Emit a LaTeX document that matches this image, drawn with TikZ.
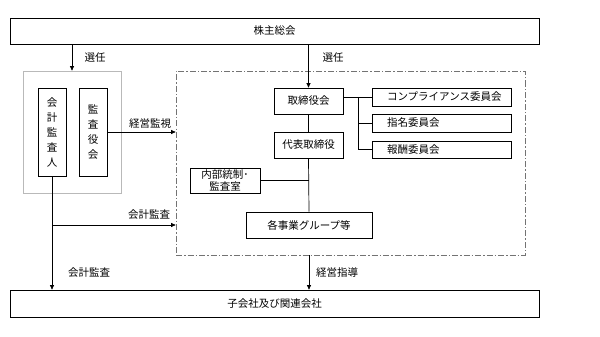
\documentclass[tikz,border=0pt]{standalone}
\usepackage{fontspec}
\setmainfont{Noto Sans CJK JP}
\usetikzlibrary{arrows.meta, positioning}

\tikzset{
  box/.style={draw, line width=0.7pt, inner sep=0pt, font=\fontsize{10.5}{12.5}\selectfont},
  vbox/.style={box, minimum width=28pt, minimum height=88pt, align=center,
    font=\fontsize{10.5}{15}\selectfont},
  cmte/.style={box, text width=109pt, inner xsep=15pt, align=left, minimum height=18pt},
  lbl/.style={font=\fontsize{10.5}{12.5}\selectfont},
  link/.style={draw, line width=0.7pt},
  arr/.style={link, -{Triangle[length=4.5pt, width=4pt]}},
}

\begin{document}
\begin{tikzpicture}[x=1pt, y=-1pt]
  \useasboundingbox (0,0) rectangle (600,337);

  % --- shareholders and subsidiaries ---
  \node[box, minimum width=529pt, minimum height=26pt] (agm) at (274.5,31) {株主総会};
  \node[box, minimum width=529pt, minimum height=27pt] (subs) at (274.5,303.5) {子会社及び関連会社};

  % --- audit group ---
  \node[draw=gray!55, line width=0.7pt, minimum width=98pt, minimum height=122pt] (audgrp) at (72,132) {};
  \node[vbox] (acct) at (52,132) {会\\計\\監\\査\\人};
  \node[vbox] (audbd) at (93,132) {監\\査\\役\\会};

  % --- management scope ---
  \node[draw=gray!90!black, line width=0.7pt, dash pattern=on 6pt off 2pt on 1.5pt off 2pt,
    minimum width=349pt, minimum height=184pt] (mgmt) at (350.5,163) {};

  \node[box, minimum width=69pt, minimum height=26pt] (board) at (308.5,101) {取締役会};
  \node[box, minimum width=69pt, minimum height=26pt] (ceo) at (308.5,145) {代表取締役};
  \node[box, minimum width=70pt, minimum height=25pt, align=center] (ictrl) at (225,180.5) {内部統制･\\監査室};
  \node[box, minimum width=126pt, minimum height=26pt] (biz) at (309,225) {各事業グループ等};

  % --- committees ---
  \node[cmte] (comp) at (441.5,97) {コンプライアンス委員会};
  \node[cmte] (nomi) at (441.5,123) {指名委員会};
  \node[cmte, minimum height=17pt] (rem) at (441.5,149.5) {報酬委員会};
  \coordinate (bus) at (358,97);

  % --- connectors ---
  \draw[arr] (agm.south -| audgrp) -- (audgrp.north);
  \draw[arr] (agm.south -| board) -- (board.north);
  \draw[arr] (audbd.east) -- (mgmt.west |- audbd);
  \draw[link] (board.east |- comp) -- (comp.west);
  \draw[link] (bus) -- (bus |- rem);
  \draw[link] (bus |- nomi) -- (nomi.west);
  \draw[link] (bus |- rem) -- (rem.west);
  \draw[link] (board.south) -- (ceo.north);
  \draw[link] (ceo.south) -- (biz.north);
  \draw[link] (ictrl.east) -- (ceo.south |- ictrl.east);
  \draw[arr] (mgmt.south -| biz) -- (subs.north -| biz);
  \draw[arr] (acct.south) -- (subs.north -| acct);
  \draw[arr] (acct.south |- biz) -- (mgmt.west |- biz);

  % --- labels ---
  \node[lbl] (selA) at (95,58) {選任};
  \node[lbl] (selB) at (333,58) {選任};
  \node[lbl] (supv) at (150,124) {経営監視};
  \node[lbl] (audA) at (149,215) {会計監査};
  \node[lbl] (audB) at (89,273) {会計監査};
  \node[lbl] (guid) at (337,273) {経営指導};

\end{tikzpicture}
\end{document}
